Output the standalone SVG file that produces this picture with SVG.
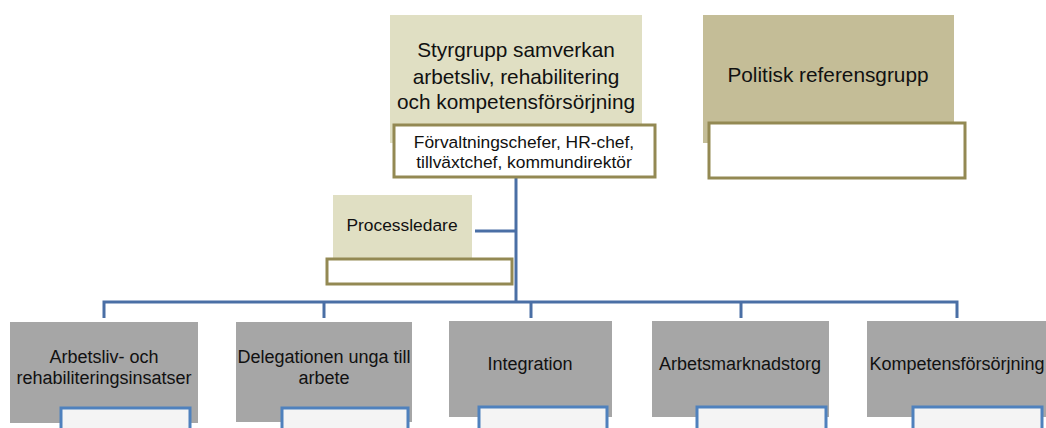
<svg xmlns="http://www.w3.org/2000/svg" width="1046" height="428" viewBox="0 0 1046 428">
<style>
text{font-family:"Liberation Sans",Arial,sans-serif;fill:#111;text-anchor:middle}
.t20{font-size:20.8px}
.t16{font-size:17.4px}
.t17{font-size:18px}
.sub{fill:#ffffff;stroke:#938953;stroke-width:3}
.gray{fill:#a6a6a6}
.bsub{fill:#f4f4f4;stroke:#4f81bd;stroke-width:3}
.con{fill:none;stroke:#4a6fa5;stroke-width:3}
</style>
<rect width="1046" height="428" fill="#ffffff"/>
<g id="connectors">
<path class="con" d="M516 177 V302"/>
<path class="con" d="M475 231 H516"/>
<path class="con" d="M104 318 V302 H957 V318"/>
<path class="con" d="M324 302 V318"/>
<path class="con" d="M531 302 V318"/>
<path class="con" d="M741 302 V318"/>
</g>
<g id="styrgrupp">
<rect x="390" y="15" width="252" height="128" fill="#e0dfc3"/>
<text class="t20" x="516" y="57">Styrgrupp samverkan</text>
<text class="t20" x="516" y="84">arbetsliv, rehabilitering</text>
<text class="t20" x="516" y="109">och kompetensförsörjning</text>
</g>
<g id="styrgrupp-sub">
<rect class="sub" x="394" y="125" width="261" height="52"/>
<text class="t16" x="524" y="148">Förvaltningschefer, HR-chef,</text>
<text class="t16" x="524" y="168">tillväxtchef, kommundirektör</text>
</g>
<g id="politisk">
<rect x="703" y="15" width="251" height="128" fill="#c4bd97"/>
<text class="t20" x="828" y="82">Politisk referensgrupp</text>
</g>
<g id="politisk-sub">
<rect class="sub" x="709" y="123" width="256" height="55"/>
</g>
<g id="processledare">
<rect x="333" y="195" width="139" height="70" fill="#e0dfc3"/>
<text class="t16" x="402" y="231">Processledare</text>
</g>
<g id="processledare-sub">
<rect class="sub" x="327" y="259" width="185" height="25"/>
</g>
<g id="arbetsliv">
<rect class="gray" x="10" y="322" width="188" height="101"/>
<text class="t17" x="104" y="363">Arbetsliv- och</text>
<text class="t17" x="104" y="384">rehabiliteringsinsatser</text>
<rect class="bsub" x="61" y="408" width="129" height="30"/>
</g>
<g id="delegationen">
<rect class="gray" x="236" y="322" width="176" height="100"/>
<text class="t17" x="324" y="363">Delegationen unga till</text>
<text class="t17" x="324" y="384">arbete</text>
<rect class="bsub" x="282" y="408" width="126" height="30"/>
</g>
<g id="integration">
<rect class="gray" x="449" y="321" width="163" height="96"/>
<text class="t17" x="530" y="370">Integration</text>
<rect class="bsub" x="479" y="407" width="128" height="30"/>
</g>
<g id="arbetsmarknadstorg">
<rect class="gray" x="652" y="321" width="177" height="96"/>
<text class="t17" x="740" y="370">Arbetsmarknadstorg</text>
<rect class="bsub" x="697" y="407" width="129" height="30"/>
</g>
<g id="kompetens">
<rect class="gray" x="867" y="321" width="180" height="96"/>
<text class="t17" x="957" y="370">Kompetensförsörjning</text>
<rect class="bsub" x="913" y="407" width="129" height="30"/>
</g>
</svg>
